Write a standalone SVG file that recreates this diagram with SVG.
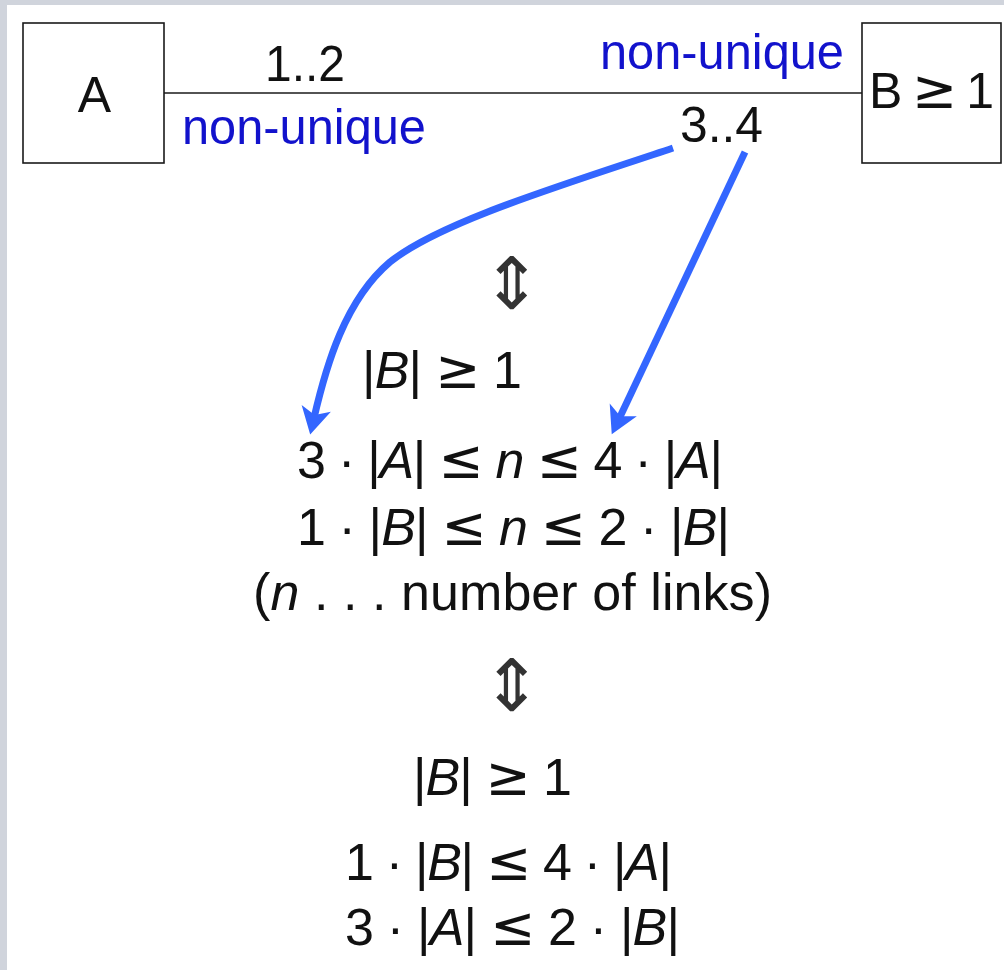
<svg xmlns="http://www.w3.org/2000/svg" width="1004" height="970" viewBox="0 0 1004 970">
<style>
.box{fill:#fff;stroke:#1a1a1a;stroke-width:1.6}
.assoc{fill:none;stroke:#1a1a1a;stroke-width:1.5}
.t{font-family:"Liberation Sans",Arial,sans-serif;fill:#111;font-size:50px}
.m{font-family:"Liberation Sans",Arial,sans-serif;fill:#111;font-size:52px}
.rel{font-family:"DejaVu Sans",sans-serif;font-size:54px}
.blue{fill:#1212cc}
.it{font-style:italic}
.arr{fill:none;stroke:#3366ff;stroke-width:7}
.sym{font-family:"DejaVu Sans",sans-serif;font-size:72px;fill:#333;text-anchor:middle}
</style>
<defs>
<marker id="head" markerUnits="userSpaceOnUse" viewBox="-14 -18 38 36" refX="0" refY="0" markerWidth="38" markerHeight="36" orient="auto" overflow="visible">
<path d="M17,0 L-10,-15 L-3,0 L-10,15 Z" fill="#3366ff"/>
</marker>
</defs>
<rect x="0" y="0" width="1004" height="970" fill="#d0d4dc"/>
<rect x="7" y="5" width="997" height="965" fill="#ffffff"/>

<g id="connectors">
<line class="assoc" x1="164" y1="93" x2="862" y2="93"/>
<text class="t" x="265" y="81" textLength="80" lengthAdjust="spacingAndGlyphs">1..2</text>
<text class="t blue" x="182" y="144" textLength="244" lengthAdjust="spacingAndGlyphs">non-unique</text>
<text class="t blue" x="600" y="69" textLength="244" lengthAdjust="spacingAndGlyphs">non-unique</text>
<text class="t" x="680" y="142" textLength="83" lengthAdjust="spacingAndGlyphs">3..4</text>
<path class="arr" d="M673,148 C560,186 440,222 390,262 C345,300 326,366 314,418" marker-end="url(#head)"/>
<path class="arr" d="M745,152 L619,419" marker-end="url(#head)"/>
</g>

<g id="node-A">
<rect class="box" x="23" y="23" width="141" height="140"/>
<text class="t" x="94.5" y="112" text-anchor="middle" font-size="54">A</text>
</g>

<g id="node-B">
<rect class="box" x="862" y="23" width="139" height="140"/>
<text class="t" x="869" y="108" textLength="125" lengthAdjust="spacing" font-size="54">B <tspan class="rel">≥</tspan> 1</text>
</g>

<g id="derivation">
<text class="sym" x="512" y="309">⇕</text>
<text class="m" x="362" y="388" textLength="160" lengthAdjust="spacing">|<tspan class="it">B</tspan>| <tspan class="rel">≥</tspan> 1</text>
<text class="m" x="297" y="478" textLength="426" lengthAdjust="spacing">3 · |<tspan class="it">A</tspan>| <tspan class="rel">≤</tspan> <tspan class="it">n</tspan> <tspan class="rel">≤</tspan> 4 · |<tspan class="it">A</tspan>|</text>
<text class="m" x="297" y="545" textLength="433" lengthAdjust="spacing">1 · |<tspan class="it">B</tspan>| <tspan class="rel">≤</tspan> <tspan class="it">n</tspan> <tspan class="rel">≤</tspan> 2 · |<tspan class="it">B</tspan>|</text>
<text class="m" x="253" y="610" textLength="519" lengthAdjust="spacing">(<tspan class="it">n</tspan> . . .  number of links)</text>
<text class="sym" x="512" y="711">⇕</text>
<text class="m" x="413" y="795" textLength="159" lengthAdjust="spacing">|<tspan class="it">B</tspan>| <tspan class="rel">≥</tspan> 1</text>
<text class="m" x="345" y="880" textLength="327" lengthAdjust="spacing">1 · |<tspan class="it">B</tspan>| <tspan class="rel">≤</tspan> 4 · |<tspan class="it">A</tspan>|</text>
<text class="m" x="345" y="945" textLength="335" lengthAdjust="spacing">3 · |<tspan class="it">A</tspan>| <tspan class="rel">≤</tspan> 2 · |<tspan class="it">B</tspan>|</text>
</g>
</svg>
